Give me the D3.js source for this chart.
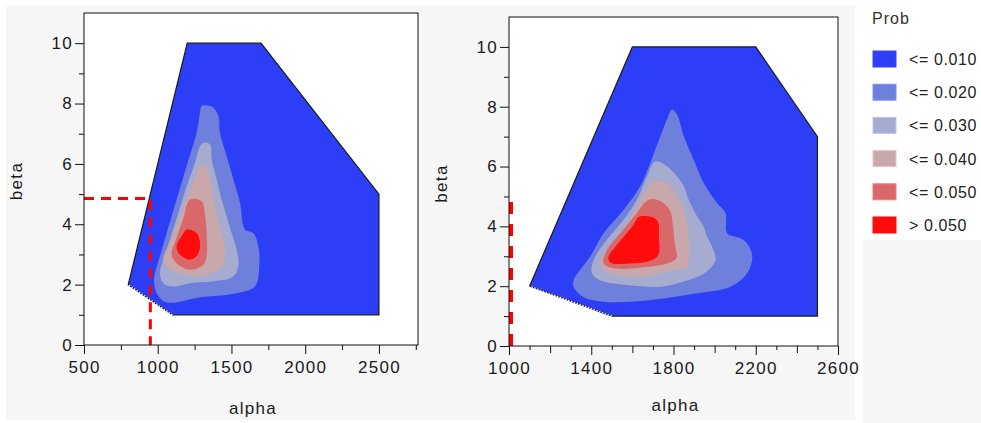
<!DOCTYPE html>
<html>
<head>
<meta charset="utf-8">
<script src="https://cdn.jsdelivr.net/npm/d3@7"></script>
<style>
  body { margin: 0; background: #fff; }
  svg { display: block; font-family: "Liberation Sans", Arial, sans-serif; }
</style>
</head>
<body>
<svg id="chart" width="981" height="423"></svg>
<script>
// legend levels, outer to inner
var levelLabels = ['<= 0.010', '<= 0.020', '<= 0.030', '<= 0.040', '<= 0.050', '> 0.050'];
var levelColors = ['#2d3ff6', '#6f7fdc', '#a6abd0', '#c9a8ac', '#d9686b', '#fe0b0b'];

// left panel: support region and contour bands [alpha, beta]
var leftSupport = [[800, 2], [1200, 10], [1700, 10], [2500, 5], [2500, 1], [1100, 1]];
var leftBand2 = [[1298, 7.92], [1366, 7.90], [1411, 7.59], [1422, 7.03], [1467, 6.26], [1513, 5.48], [1558, 4.71],
                 [1592, 3.82], [1648, 3.71], [1682, 3.27], [1689, 2.71], [1659, 1.94], [1513, 1.70], [1287, 1.58],
                 [1106, 1.40], [1038, 1.46], [993, 1.72], [975, 2.16], [1015, 2.94], [1061, 3.71], [1128, 4.82],
                 [1196, 5.93], [1264, 7.03], [1287, 7.70]];
var leftBand3 = [[1309, 6.70], [1354, 6.64], [1366, 6.15], [1400, 5.48], [1433, 4.82], [1467, 4.26], [1501, 3.71],
                 [1540, 3.05], [1546, 2.60], [1513, 2.27], [1377, 2.11], [1219, 2.05], [1106, 1.94], [1038, 2.05],
                 [1015, 2.38], [1038, 2.83], [1083, 3.49], [1140, 4.38], [1196, 5.26], [1253, 6.04], [1287, 6.59]];
var leftBand4 = [[1287, 5.95], [1327, 5.87], [1359, 5.37], [1388, 4.65], [1422, 3.88], [1458, 3.16], [1433, 2.60],
                 [1332, 2.33], [1185, 2.33], [1072, 2.55], [1038, 2.85], [1079, 3.38], [1140, 4.15], [1207, 4.98],
                 [1264, 5.70]];
var leftBand5 = [[1219, 4.82], [1298, 4.76], [1320, 4.32], [1332, 3.66], [1332, 2.99], [1309, 2.66], [1219, 2.49],
                 [1128, 2.71], [1094, 2.99], [1128, 3.55], [1174, 4.21]];
var leftBand6 = [[1196, 3.82], [1264, 3.71], [1287, 3.27], [1264, 2.94], [1219, 2.83], [1151, 2.99], [1128, 3.27],
                 [1162, 3.60]];
var leftRef = [[500, 4.85], [950, 4.85], [950, 0]];

// right panel
var rightSupport = [[1100, 2], [1600, 10], [2200, 10], [2500, 7], [2500, 1], [1500, 1]];
var rightBand2 = [[1793, 7.91], [1817, 7.74], [1850, 7.01], [1898, 6.23], [1947, 5.45], [2012, 4.78], [2053, 4.44],
                  [2061, 3.77], [2126, 3.60], [2158, 3.43], [2183, 2.99], [2158, 2.43], [2077, 1.98], [1915, 1.76],
                  [1752, 1.59], [1590, 1.48], [1460, 1.48], [1362, 1.64], [1314, 1.98], [1314, 2.20], [1395, 2.99],
                  [1460, 3.77], [1557, 4.55], [1638, 5.34], [1687, 6.12], [1736, 7.01], [1768, 7.57]];
var rightBand3 = [[1711, 6.17], [1768, 6.01], [1817, 5.67], [1850, 5.34], [1874, 4.89], [1915, 4.33], [1947, 3.99],
                  [1963, 3.66], [1988, 3.32], [2004, 2.87], [1947, 2.42], [1817, 2.09], [1736, 1.98], [1573, 2.04],
                  [1443, 2.20], [1403, 2.43], [1411, 2.87], [1476, 3.55], [1557, 4.22], [1622, 4.89], [1671, 5.67]];
var rightBand4 = [[1703, 5.50], [1736, 5.50], [1785, 5.34], [1817, 5.00], [1850, 4.55], [1866, 4.11], [1874, 3.55],
                  [1874, 2.99], [1866, 2.65], [1801, 2.54], [1736, 2.43], [1655, 2.32], [1573, 2.32], [1492, 2.43],
                  [1443, 2.76], [1476, 3.21], [1541, 3.77], [1606, 4.44], [1655, 5.11]];
var rightBand5 = [[1679, 4.89], [1728, 4.87], [1781, 4.55], [1798, 3.99], [1806, 3.43], [1814, 2.93], [1760, 2.74],
                  [1638, 2.62], [1508, 2.60], [1460, 2.76], [1476, 3.21], [1541, 3.77], [1614, 4.38]];
var rightBand6 = [[1630, 4.31], [1695, 4.31], [1724, 4.16], [1729, 3.66], [1726, 3.04], [1687, 2.85], [1590, 2.76],
                  [1492, 2.79], [1484, 2.99], [1517, 3.32], [1565, 3.71], [1606, 4.05]];
var rightRef = [[1010, 0], [1010, 5.1]];

var leftXTicks = [500, 1000, 1500, 2000, 2500];
var leftXMinor = [750, 1250, 1750, 2250, 2750];
var rightXTicks = [1000, 1400, 1800, 2200, 2600];
var rightXMid = [1200, 1600, 2000, 2400];
var rightXMinor = [1100, 1300, 1500, 1700, 1900, 2100, 2300, 2500];
var yTicks = [0, 2, 4, 6, 8, 10];
var yMinor = [1, 3, 5, 7, 9];

var svg = d3.select('#chart');

// backgrounds
svg.append('rect').attr('x', 6).attr('y', 6).attr('width', 849).attr('height', 414).attr('fill', '#f6f6f6');
svg.append('rect').attr('x', 863).attr('y', 240).attr('width', 118).attr('height', 183).attr('fill', '#f6f6f6');

function styleTicks(g) {
    g.select('.domain').remove();
    g.selectAll('.tick line').attr('stroke', '#111');
    g.selectAll('.tick text')
        .attr('fill', '#1a1a1a')
        .attr('font-size', 17)
        .attr('letter-spacing', '1.3px');
}

function drawPanel(p) {
    var x = d3.scaleLinear().domain(p.xDomain).range([p.left, p.right]);
    var y = d3.scaleLinear().domain([0, 11]).range([p.bottom, p.top]);
    var g = svg.append('g');

    g.append('rect')
        .attr('x', p.left).attr('y', p.top)
        .attr('width', p.right - p.left).attr('height', p.bottom - p.top)
        .attr('fill', '#fff');

    var clipId = 'clip' + p.id;
    g.append('clipPath').attr('id', clipId).append('rect')
        .attr('x', p.left).attr('y', p.top)
        .attr('width', p.right - p.left).attr('height', p.bottom - p.top);

    var plot = g.append('g').attr('clip-path', 'url(#' + clipId + ')');
    var poly = d3.line().x(function(d) { return x(d[0]); }).y(function(d) { return y(d[1]); }).curve(d3.curveLinearClosed);
    var smooth = d3.line().x(function(d) { return x(d[0]); }).y(function(d) { return y(d[1]); }).curve(d3.curveCatmullRomClosed.alpha(0.5));

    plot.append('path').attr('d', poly(p.support))
        .attr('fill', levelColors[0]).attr('stroke', '#1a1a1a').attr('stroke-width', 1.2);
    // lower left edge drawn dotted
    plot.append('line')
        .attr('x1', x(p.support[5][0])).attr('y1', y(p.support[5][1]))
        .attr('x2', x(p.support[0][0])).attr('y2', y(p.support[0][1]))
        .attr('stroke', '#fff').attr('stroke-width', 1.2).attr('stroke-dasharray', '1.5,1.5');

    p.bands.forEach(function(b, i) {
        plot.append('path').attr('d', smooth(b)).attr('fill', levelColors[i + 1]);
    });

    plot.append('path')
        .attr('d', d3.line().x(function(d) { return x(d[0]); }).y(function(d) { return y(d[1]); })(p.ref))
        .attr('fill', 'none').attr('stroke', '#f00')
        .attr('stroke-width', p.refWidth).attr('stroke-dasharray', p.refDash);

    g.append('rect')
        .attr('x', p.left).attr('y', p.top)
        .attr('width', p.right - p.left).attr('height', p.bottom - p.top)
        .attr('fill', 'none').attr('stroke', '#111').attr('stroke-width', 1);

    // y axis
    g.append('g').attr('transform', 'translate(' + p.left + ',0)')
        .call(d3.axisLeft(y).tickValues(yMinor).tickSize(5).tickFormat(''))
        .call(styleTicks);
    g.append('g').attr('transform', 'translate(' + p.left + ',0)')
        .call(d3.axisLeft(y).tickValues(yTicks).tickSize(9).tickPadding(2).tickFormat(d3.format('d')))
        .call(styleTicks);

    // x axis
    p.xMinor.forEach(function(m) {
        g.append('g').attr('transform', 'translate(0,' + p.bottom + ')')
            .call(d3.axisBottom(x).tickValues(m.values).tickSize(m.size).tickFormat(''))
            .call(styleTicks);
    });
    g.append('g').attr('transform', 'translate(0,' + p.bottom + ')')
        .call(d3.axisBottom(x).tickValues(p.xTicks).tickSize(9).tickPadding(7).tickFormat(d3.format('d')))
        .call(styleTicks);

    g.append('text')
        .attr('x', (p.left + p.right) / 2 + 2).attr('y', p.xLabelY)
        .attr('text-anchor', 'middle').attr('font-size', 17).attr('letter-spacing', '1.3px')
        .attr('fill', '#1a1a1a').text('alpha');
    g.append('text')
        .attr('transform', 'translate(' + p.yLabelX + ',' + ((p.top + p.bottom) / 2 + 2) + ') rotate(-90)')
        .attr('text-anchor', 'middle').attr('font-size', 17).attr('letter-spacing', '1.3px')
        .attr('fill', '#1a1a1a').text('beta');
}

drawPanel({
    id: 'L', left: 84, right: 418, top: 13, bottom: 345,
    xDomain: [500, 2765],
    support: leftSupport,
    bands: [leftBand2, leftBand3, leftBand4, leftBand5, leftBand6],
    ref: leftRef, refWidth: 3, refDash: '10,7',
    xTicks: leftXTicks,
    xMinor: [{ values: leftXMinor, size: 5 }],
    xLabelY: 414, yLabelX: 22
});

drawPanel({
    id: 'R', left: 509, right: 838, top: 17, bottom: 346,
    xDomain: [1000, 2600],
    support: rightSupport,
    bands: [rightBand2, rightBand3, rightBand4, rightBand5, rightBand6],
    ref: rightRef, refWidth: 4, refDash: '12,10',
    xTicks: rightXTicks,
    xMinor: [{ values: rightXMinor, size: 4 }, { values: rightXMid, size: 7 }],
    xLabelY: 411, yLabelX: 447
});

// legend
var legend = svg.append('g');
legend.append('text').attr('x', 872).attr('y', 24)
    .attr('font-size', 16).attr('letter-spacing', '1px').attr('fill', '#333').text('Prob');
levelLabels.forEach(function(lab, i) {
    var cy = 59 + i * 33.2;
    legend.append('rect')
        .attr('x', 873).attr('y', cy - 8).attr('width', 23).attr('height', 16)
        .attr('fill', levelColors[i]).attr('stroke', d3.color(levelColors[i]).brighter(0.4)).attr('stroke-width', 1);
    legend.append('text')
        .attr('x', 909).attr('y', cy + 6)
        .attr('font-size', 16).attr('letter-spacing', '0.6px').attr('fill', '#222').text(lab);
});
</script>
</body>
</html>
